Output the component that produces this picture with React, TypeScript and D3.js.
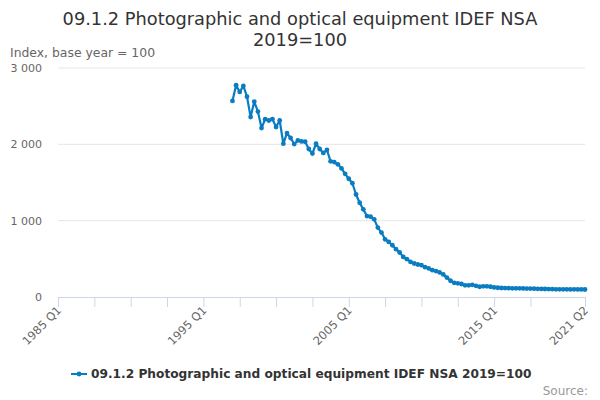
import React from "react";
import * as d3 from "d3";

// Quarterly categories 1985 Q1 .. 2021 Q2
const firstYear = 1985;
const lastYear = 2021;
const lastQuarter = 2;

const categories: string[] = [];
for (let y = firstYear; y <= lastYear; y++) {
    for (let q = 1; q <= 4; q++) {
        if (y === lastYear && q > lastQuarter) break;
        categories.push(`${y} Q${q}`);
    }
}

// Index values, 1997 Q1 .. 2021 Q2
const seriesStart = "1997 Q1";
const seriesValues: number[] = [
    2569, 2774, 2686, 2765, 2625, 2357, 2560, 2429, 2213, 2330,
    2312, 2330, 2226, 2312, 2008, 2148, 2083, 2004, 2051, 2038,
    2034, 1939, 1880, 2008, 1939, 1887, 1926, 1777, 1767, 1738,
    1685, 1614, 1549, 1490, 1343, 1235, 1148, 1060, 1052, 1017,
    909, 844, 756, 721, 678, 626, 583, 525, 496, 460,
    439, 426, 417, 391, 374, 352, 339, 322, 296, 254,
    213, 186, 179, 170, 153, 153, 160, 147, 134, 140,
    140, 134, 126, 121, 118, 117, 115, 114, 113, 114,
    112, 111, 110, 109, 107, 106, 105, 104, 102, 101,
    101, 100, 100, 99, 100, 99, 99, 98,
];

const yTicks = [0, 1000, 2000, 3000];
const labelEvery = 40;
const tickEvery = 10;

const seriesName = "09.1.2 Photographic and optical equipment IDEF NSA 2019=100";
const titleLines = ["09.1.2 Photographic and optical equipment IDEF NSA", "2019=100"];
const yAxisTitle = "Index, base year = 100";
const credit = "Source:";

type Point = { cat: string; value: number };

const startIdx = categories.indexOf(seriesStart);
const points: Point[] = seriesValues.map((v, i) => ({ cat: categories[startIdx + i], value: v }));

const color = "#0a7cc1";
const font = "'DejaVu Sans', sans-serif";

export default function App() {
    const width = 600;
    const height = 400;
    const margin = { top: 68, right: 15, bottom: 103, left: 58 };

    const x = d3.scalePoint<string>()
        .domain(categories)
        .range([margin.left, width - margin.right]);

    const y = d3.scaleLinear()
        .domain([0, 3000])
        .range([height - margin.bottom, margin.top]);

    const line = d3.line<Point>()
        .x((d) => x(d.cat) as number)
        .y((d) => y(d.value));

    // tick marks every 10 quarters, last one forced at the final category
    const last = categories.length - 1;
    const tickIdx = categories
        .map((_, i) => i)
        .filter((i) => i % tickEvery === 0 && last - i > 6);
    tickIdx.push(last);
    const labelIdx = tickIdx.filter((i) => i % labelEvery === 0 || i === last);

    const axisY = y(0);

    return (
        <svg
            width={width}
            height={height}
            style={{ position: "fixed", left: 0, top: 0, background: "#fff" }}
            fontFamily={font}
        >
            {titleLines.map((t, i) => (
                <text key={i} x={width / 2} y={25 + i * 21} textAnchor="middle" fontSize={17.8} fill="#333">
                    {t}
                </text>
            ))}
            <text x={10} y={57} fontSize={12.4} fill="#666">{yAxisTitle}</text>

            {/* grid + y labels */}
            {yTicks.map((t) => (
                <g key={t}>
                    {t > 0 && (
                        <line x1={margin.left} x2={width - margin.right} y1={y(t)} y2={y(t)} stroke="#e6e6e6" />
                    )}
                    <text x={42} y={y(t) + 4} textAnchor="end" fontSize={11} fill="#666">
                        {d3.format(",")(t).replace(",", " ")}
                    </text>
                </g>
            ))}

            {/* x axis */}
            <line x1={margin.left} x2={width - margin.right} y1={axisY + 0.5} y2={axisY + 0.5} stroke="#ccd6eb" />
            {tickIdx.map((i) => (
                <line
                    key={i}
                    x1={(x(categories[i]) as number) + 0.5}
                    x2={(x(categories[i]) as number) + 0.5}
                    y1={axisY}
                    y2={axisY + 10}
                    stroke="#ccd6eb"
                />
            ))}
            {labelIdx.map((i) => {
                const px = (x(categories[i]) as number) + 4;
                const py = axisY + 14;
                return (
                    <text
                        key={i}
                        x={px}
                        y={py}
                        textAnchor="end"
                        fontSize={11.5}
                        fill="#666"
                        transform={`rotate(-45 ${px} ${py})`}
                    >
                        {categories[i]}
                    </text>
                );
            })}

            {/* series */}
            <path d={line(points) ?? ""} fill="none" stroke={color} strokeWidth={2.2} strokeLinejoin="round" />
            {points.map((d) => (
                <circle key={d.cat} cx={x(d.cat) as number} cy={y(d.value)} r={2.4} fill={color} />
            ))}

            {/* legend */}
            <line x1={71} x2={87} y1={374} y2={374} stroke={color} strokeWidth={2} />
            <circle cx={79} cy={374} r={2.4} fill={color} />
            <text x={91} y={378} fontSize={12.2} fontWeight="bold" fill="#333">{seriesName}</text>

            <text x={588} y={395} textAnchor="end" fontSize={12} fill="#999">{credit}</text>
        </svg>
    );
}
